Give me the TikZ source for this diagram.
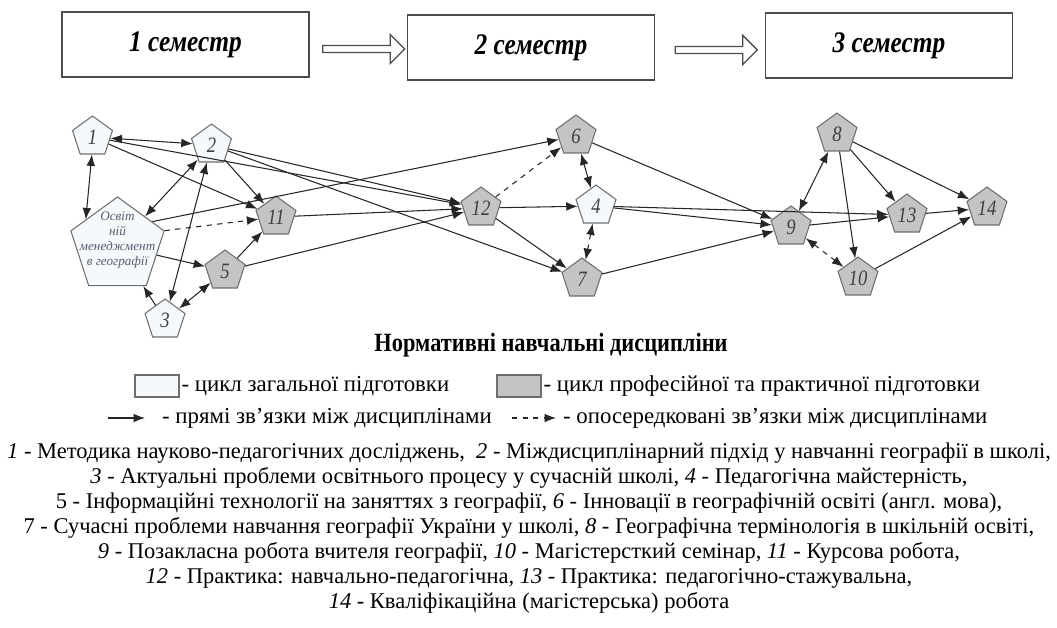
\documentclass[tikz,border=0pt]{standalone}
\usepackage{fontspec}
\setmainfont{Liberation Serif}
\newfontfamily\condfont[FakeStretch=0.85]{Liberation Serif}
\usetikzlibrary{shapes.geometric,shapes.arrows,arrows.meta}
\definecolor{genfill}{RGB}{246,249,251}
\definecolor{proffill}{RGB}{196,196,196}
\definecolor{rim}{RGB}{110,110,110}
\definecolor{omtext}{RGB}{85,95,115}

\begin{document}
\begin{tikzpicture}[x=0.02cm,y=-0.02cm,
  >={Latex[length=6.5pt,width=5pt]},
  disc/.style={regular polygon,regular polygon sides=5,draw=rim,line width=0.6pt,
    minimum size=0.84cm,inner sep=0pt,text=black!75,
    font=\condfont\fontsize{12.5}{12.5}\selectfont\itshape},
  gen/.style={disc,fill=genfill},
  prof/.style={disc,fill=proffill},
  sem/.style={draw=black!70,line width=1pt,minimum width=4.94cm,minimum height=1.3cm,
    font=\condfont\fontsize{17}{17}\selectfont\bfseries\itshape},
  hollow/.style={single arrow,draw=black!70,line width=0.8pt,fill=white,
    inner xsep=0pt,inner ysep=0.056cm,minimum height=1.64cm,
    single arrow head extend=0.22cm,single arrow head indent=0pt},
  link/.style={draw=black!85,line width=0.6pt,->},
  both/.style={link,<->},
  indirect/.style={link,dashed},
  legbox/.style={draw=rim,line width=0.6pt,minimum width=0.88cm,minimum height=0.44cm},
  legtext/.style={anchor=west,inner sep=1pt,font=\fontsize{13}{13}\selectfont}]
  \useasboundingbox (0,0) rectangle (1057,628);

  \node[sem] (s1) at (185.5,44.5) {1 семестр};
  \node[sem] (s2) at (531,47.5) {2 семестр};
  \node[sem] (s3) at (889,45.5) {3 семестр};
  \node[hollow] (h1) at (362,49) {};
  \node[hollow] (h2) at (714.5,50) {};

  \node[gen] (n1) at (92.5,137) {1};
  \node[gen] (n2) at (211.5,145) {2};
  \node[gen] (n3) at (165,320) {3};
  \node[gen] (n4) at (596,206) {4};
  \node[prof] (n5) at (225,271) {5};
  \node[prof] (n6) at (576,136) {6};
  \node[prof] (n7) at (582,279) {7};
  \node[prof] (n8) at (837,134) {8};
  \node[prof] (n9) at (791,227) {9};
  \node[prof] (n10) at (858,278) {10};
  \node[prof] (n11) at (276,217) {11};
  \node[prof] (n12) at (481,208) {12};
  \node[prof] (n13) at (907,215) {13};
  \node[prof] (n14) at (987,208) {14};
  \node[gen,minimum size=1.96cm] (om) at (117.5,246) {};
  \node[align=center,text=omtext,inner sep=0pt,
    font=\fontsize{7.5}{8.4}\selectfont\itshape] (omlabel) at (117.5,240)
    {Освіт\\ній\\менеджмент\\в географії};

  \draw[both] (n1) -- (n2);
  \draw[both] (n1.268) -- (om.140);
  \draw[both] (n2) -- (om);
  \draw[both] (n2) -- (n3);
  \draw[link] (n1) -- (n11);
  \draw[link] (n1) -- (n12);
  \draw[link] (n2) -- (n11);
  \draw[link] (n2) -- (n12);
  \draw[link] (n2) -- (n7);
  \draw[link] (om.35) -- (n6);
  \draw[indirect] (om.corner 5) -- (n11);
  \draw[link] (om) -- (n5);
  \draw[link] (n3) -- (om);
  \draw[both] (n3) -- (n5);
  \draw[link] (n5) -- (n11);
  \draw[link] (n5) -- (n12);
  \draw[link] (n11) -- (n12);
  \draw[indirect] (n12) -- (n6);
  \draw[link] (n12) -- (n4);
  \draw[link] (n12) -- (n7);
  \draw[both] (n6) -- (n4);
  \draw[both,dashed] (n4) -- (n7);
  \draw[link] (n6) -- (n9);
  \draw[link] (n4) -- (n13);
  \draw[link] (n4) -- (n9);
  \draw[link] (n7) -- (n9);
  \draw[both] (n8) -- (n9);
  \draw[link] (n8) -- (n10);
  \draw[link] (n8) -- (n13);
  \draw[link] (n8) -- (n14);
  \draw[link] (n9) -- (n13);
  \draw[both,dashed] (n9) -- (n10);
  \draw[link] (n13) -- (n14);
  \draw[link] (n10) -- (n14);

  \node[font=\condfont\fontsize{15}{15}\selectfont\bfseries] (title) at (551,345)
    {Нормативні навчальні дисципліни};
  \node[legbox,fill=genfill] (lg1) at (157,386) {};
  \node[legtext] (lt1) at (lg1.east) {- цикл загальної підготовки};
  \node[legbox,fill=proffill] (lg2) at (519,386) {};
  \node[legtext] (lt2) at (lg2.east) {- цикл професійної та практичної підготовки};
  \coordinate (a1) at (108,418);
  \coordinate (a2) at (145,418);
  \draw[link] (a1) -- (a2);
  \node[legtext] (lt3) at (160,418) {- прямі зв’язки між дисциплінами};
  \coordinate (b1) at (512,418);
  \coordinate (b2) at (556,418);
  \draw[indirect] (b1) -- (b2);
  \node[legtext] (lt4) at (561,418) {- опосередковані зв’язки між дисциплінами};

  \node[align=center,font=\fontsize{12.8}{14.2}\selectfont,anchor=north] (key) at (529,437)
    {\textit{1} - Методика науково-педагогічних досліджень,\ \ \textit{2} - Міждисциплінарний підхід у навчанні географії в школі,\\
     \textit{3} - Актуальні проблеми освітнього процесу у сучасній школі, \textit{4} - Педагогічна майстерність,\\
     5 - Інформаційні технології на заняттях з географії, \textit{6} - Інновації в географічній освіті (англ. мова),\\
     7 - Сучасні проблеми навчання географії України у школі, \textit{8} - Географічна термінологія в шкільній освіті,\\
     \textit{9} - Позакласна робота вчителя географії, \textit{10} - Магістерсткий семінар, \textit{11} - Курсова робота,\\
     \textit{12} - Практика: навчально-педагогічна, \textit{13} - Практика: педагогічно-стажувальна,\\
     \textit{14} - Кваліфікаційна (магістерська) робота};
\end{tikzpicture}
\end{document}
